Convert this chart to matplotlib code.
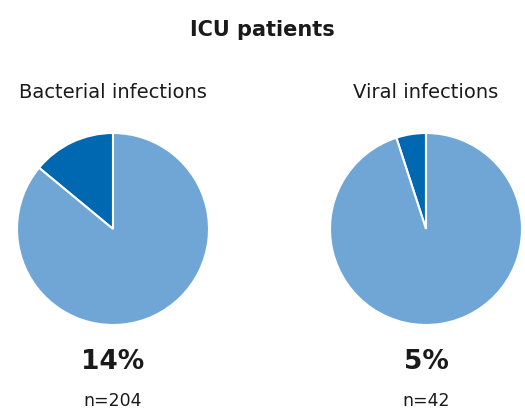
import matplotlib.pyplot as plt

groups = ["Bacterial infections", "Viral infections"]
icu_share = [14, 5]
n_patients = [204, 42]

light = "#6fa6d6"
dark = "#0067b1"

W, H = 525, 418
fig = plt.figure(figsize=(W / 100, H / 100), dpi=100)

centers_x = [113, 426]
cy = 229
r = 96

fig.text(262 / W, 1 - 30 / H, "ICU patients", ha="center", va="center",
         fontsize=15, fontweight="bold", color="#1a1a1a")

for i, name in enumerate(groups):
    cx = centers_x[i]
    ax = fig.add_axes([(cx - r) / W, (H - cy - r) / H, 2 * r / W, 2 * r / H])
    share = icu_share[i]
    ax.pie([share, 100 - share], colors=[dark, light], startangle=90,
           counterclock=True, radius=1,
           wedgeprops=dict(edgecolor="white", linewidth=1.5))
    ax.set_xlim(-1, 1)
    ax.set_ylim(-1, 1)
    ax.set_aspect("equal")
    fig.text(cx / W, 1 - 92 / H, name, ha="center", va="center",
             fontsize=14, color="#1a1a1a")
    fig.text(cx / W, 1 - 362 / H, f"{share}%", ha="center", va="center",
             fontsize=19, fontweight="bold", color="#1a1a1a")
    fig.text(cx / W, 1 - 401 / H, f"n={n_patients[i]}", ha="center", va="center",
             fontsize=12.5, color="#1a1a1a")

fig.savefig("out.png", dpi=100)
